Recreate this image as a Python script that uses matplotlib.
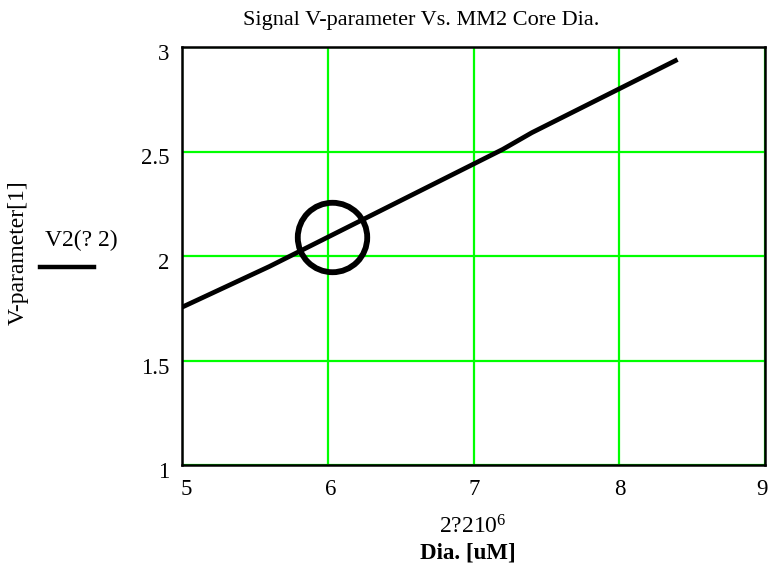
import matplotlib
matplotlib.use('Agg')
import matplotlib.pyplot as plt
from matplotlib.transforms import ScaledTranslation

# V-parameter vs core diameter (uM)
dia = [5.0, 5.2, 5.4, 5.6, 5.8, 6.0, 6.2, 6.4, 6.6, 6.8,
       7.0, 7.2, 7.4, 7.6, 7.8, 8.0, 8.2, 8.4]
v2 = [1.755, 1.82, 1.885, 1.95, 2.02, 2.09, 2.16, 2.23, 2.30, 2.37,
      2.44, 2.51, 2.59, 2.66, 2.73, 2.80, 2.87, 2.94]

# marked operating point
mark_x = [6.03]
mark_y = [2.09]

xticks = [5, 6, 7, 8, 9]
yticks = [1, 1.5, 2, 2.5, 3]
ytick_labels = ['1', '1.5', '2', '2.5', '3']

plt.rcParams['font.family'] = ['Liberation Serif', 'DejaVu Serif']
plt.rcParams['mathtext.fontset'] = 'custom'
plt.rcParams['mathtext.rm'] = 'Liberation Serif'

fig = plt.figure(figsize=(7.7, 5.78), dpi=100)
ax = fig.add_axes([182/770, 113/578, 583/770, 418/578])

ax.plot(dia, v2, color='black', linewidth=3.4, solid_capstyle='butt', zorder=3)
ax.plot(mark_x, mark_y, 'o', markersize=50, markerfacecolor='none',
        markeredgecolor='black', markeredgewidth=4.2, zorder=4)

ax.set_xlim(5, 9)
ax.set_ylim(1, 3)
ax.set_xticks(xticks)
ax.set_yticks(yticks)
ax.set_yticklabels(ytick_labels)
ax.tick_params(length=0, labelsize=16.5)
ax.tick_params(axis='y', pad=9)
ax.tick_params(axis='x', pad=10)
ax.grid(True, color='#00ff00', linewidth=1.6)
ax.set_axisbelow(True)
for s in ax.spines.values():
    s.set_linewidth(1.8)

# nudge tick labels a little, y labels sit slightly low
for lab in ax.get_yticklabels():
    lab.set_transform(lab.get_transform() + ScaledTranslation(0, -5/100, fig.dpi_scale_trans))
x_shift = [4, 3, 1, 1, -3]
for lab, dx in zip(ax.get_xticklabels(), x_shift):
    lab.set_transform(lab.get_transform() + ScaledTranslation(dx/100, 0, fig.dpi_scale_trans))

fig.text(421/770, 1 - 20/578, 'Signal V-parameter Vs. MM2 Core Dia.',
         ha='center', va='center', fontsize=16)

# y axis label and legend entry
fig.text(18/770, 1 - 253/578, 'V-parameter[1]', rotation=90,
         ha='center', va='center', fontsize=17)
fig.text(45/770, 1 - 240/578, 'V2(? 2)', ha='left', va='center', fontsize=17)
fig.lines.append(plt.Line2D([40/770, 94/770], [1 - 267/578, 1 - 267/578],
                            transform=fig.transFigure, color='black',
                            linewidth=3.2))

# x axis label
fig.text(473/770, 1 - 527/578, r'2?210$\mathregular{^6}$',
         ha='center', va='center', fontsize=17)
fig.text(468/770, 1 - 553/578, 'Dia. [uM]', ha='center', va='center',
         fontsize=16.5, fontweight='bold')

plt.savefig('out.png', dpi=100)
